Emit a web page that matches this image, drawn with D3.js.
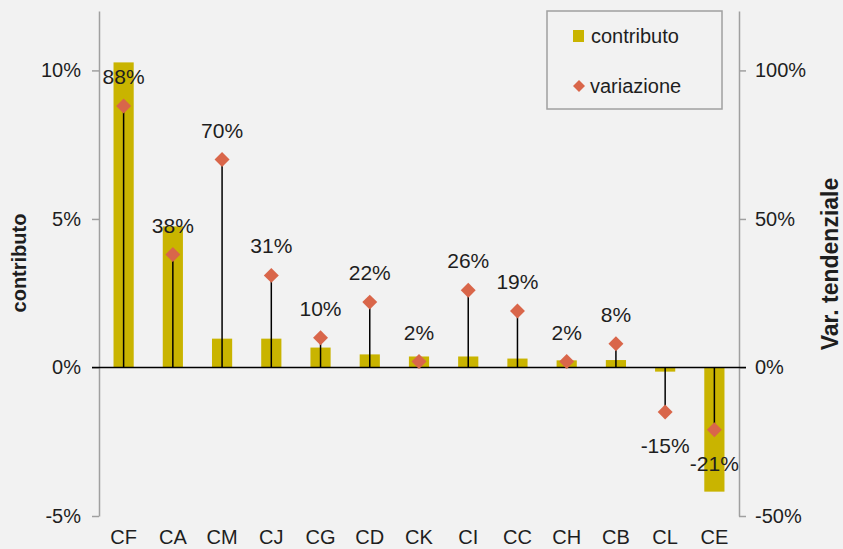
<!DOCTYPE html>
<html><head><meta charset="utf-8">
<script src="https://cdn.jsdelivr.net/npm/d3@7"></script>
<style>html,body{margin:0;padding:0;background:#f2f2f2;}svg{display:block;}</style>
</head><body>
<script>
const categories = ["CF","CA","CM","CJ","CG","CD","CK","CI","CC","CH","CB","CL","CE"];
const contributo = [10.27,4.75,0.97,0.97,0.67,0.44,0.37,0.37,0.30,0.24,0.25,-0.14,-4.18];
const variazione = [88,38,70,31,10,22,2,26,19,2,8,-15,-21];
const leftTicks = [-5,0,5,10];
const rightTicks = [-50,0,50,100];

const W=843,H=549;
const x0=99,x1=739,yTop=11,yBot=516;
const font="'Liberation Sans', Arial, sans-serif";
const txt="#1e1e1e";
const svg=d3.select("body").append("svg").attr("width",W).attr("height",H).style("background","#f2f2f2");

const x=d3.scaleBand().domain(categories).range([x0,x1]).paddingInner(0.59).paddingOuter(0.295);
const yL=d3.scaleLinear().domain([-5,12]).range([yBot,yTop]);
const yR=d3.scaleLinear().domain([-50,120]).range([yBot,yTop]);
const cx=c=>x(c)+x.bandwidth()/2;

// bars
svg.append("g").selectAll("rect").data(categories).join("rect")
  .attr("x",c=>x(c)).attr("width",x.bandwidth())
  .attr("y",(c,i)=>yL(Math.max(0,contributo[i])))
  .attr("height",(c,i)=>Math.abs(yL(contributo[i])-yL(0)))
  .attr("fill","#c9b400");

// left axis
const gL=svg.append("g").attr("transform",`translate(${x0},0)`)
  .call(d3.axisLeft(yL).tickValues(leftTicks).tickSize(7).tickPadding(11).tickFormat(d=>d+"%").tickSizeOuter(0));
gL.select(".domain").attr("stroke","#a0a0a0").attr("stroke-width",1.5);
gL.selectAll(".tick line").attr("stroke","#a0a0a0").attr("stroke-width",1.5);
gL.selectAll("text").attr("font-family",font).attr("font-size",20).attr("fill",txt);

// right axis
const gR=svg.append("g").attr("transform",`translate(${x1},0)`)
  .call(d3.axisRight(yR).tickValues(rightTicks).tickSize(7).tickPadding(9).tickFormat(d=>d+"%").tickSizeOuter(0));
gR.select(".domain").attr("stroke","#a0a0a0").attr("stroke-width",1.5);
gR.selectAll(".tick line").attr("stroke","#a0a0a0").attr("stroke-width",1.5);
gR.selectAll("text").attr("font-family",font).attr("font-size",20).attr("fill",txt);

// zero line
svg.append("line").attr("x1",x0-7).attr("x2",x1+7).attr("y1",yL(0)).attr("y2",yL(0))
  .attr("stroke","#000").attr("stroke-width",1.5);

// stems
svg.append("g").selectAll("line").data(categories).join("line")
  .attr("x1",cx).attr("x2",cx).attr("y1",yR(0)).attr("y2",(c,i)=>yR(variazione[i]))
  .attr("stroke","#000").attr("stroke-width",1.5);

// diamonds
const dia=d3.symbol(d3.symbolSquare,112);
svg.append("g").selectAll("path").data(categories).join("path")
  .attr("d",dia).attr("fill","#d9664a")
  .attr("transform",(c,i)=>`translate(${cx(c)},${yR(variazione[i])}) rotate(45)`);

// labels
svg.append("g").selectAll("text").data(categories).join("text")
  .attr("x",cx).attr("y",(c,i)=>yR(variazione[i])+(variazione[i]<0?41:-22))
  .attr("text-anchor","middle").attr("font-family",font).attr("font-size",21).attr("fill",txt)
  .text((c,i)=>variazione[i]+"%");

// category labels
svg.append("g").selectAll("text").data(categories).join("text")
  .attr("x",cx).attr("y",544).attr("text-anchor","middle")
  .attr("font-family",font).attr("font-size",20).attr("fill",txt).text(c=>c);

// axis titles
svg.append("text").attr("transform","translate(26,263) rotate(-90)").attr("text-anchor","middle")
  .attr("font-family",font).attr("font-size",20).attr("font-weight","bold").attr("fill",txt).text("contributo");
svg.append("text").attr("transform","translate(838,264) rotate(-90)").attr("text-anchor","middle")
  .attr("font-family",font).attr("font-size",23).attr("font-weight","bold").attr("fill",txt).text("Var. tendenziale");

// legend
const lg=svg.append("g");
lg.append("rect").attr("x",547).attr("y",11).attr("width",175).attr("height",98)
  .attr("fill","none").attr("stroke","#a0a0a0").attr("stroke-width",1.5);
lg.append("rect").attr("x",573).attr("y",30).attr("width",11).attr("height",12).attr("fill","#c9b400");
lg.append("text").attr("x",591).attr("y",43).attr("font-family",font).attr("font-size",20).attr("fill",txt).text("contributo");
lg.append("path").attr("d",d3.symbol(d3.symbolSquare,72)).attr("fill","#d9664a")
  .attr("transform","translate(579,86) rotate(45)");
lg.append("text").attr("x",590).attr("y",93).attr("font-family",font).attr("font-size",20).attr("fill",txt).text("variazione");
</script>
</body></html>
